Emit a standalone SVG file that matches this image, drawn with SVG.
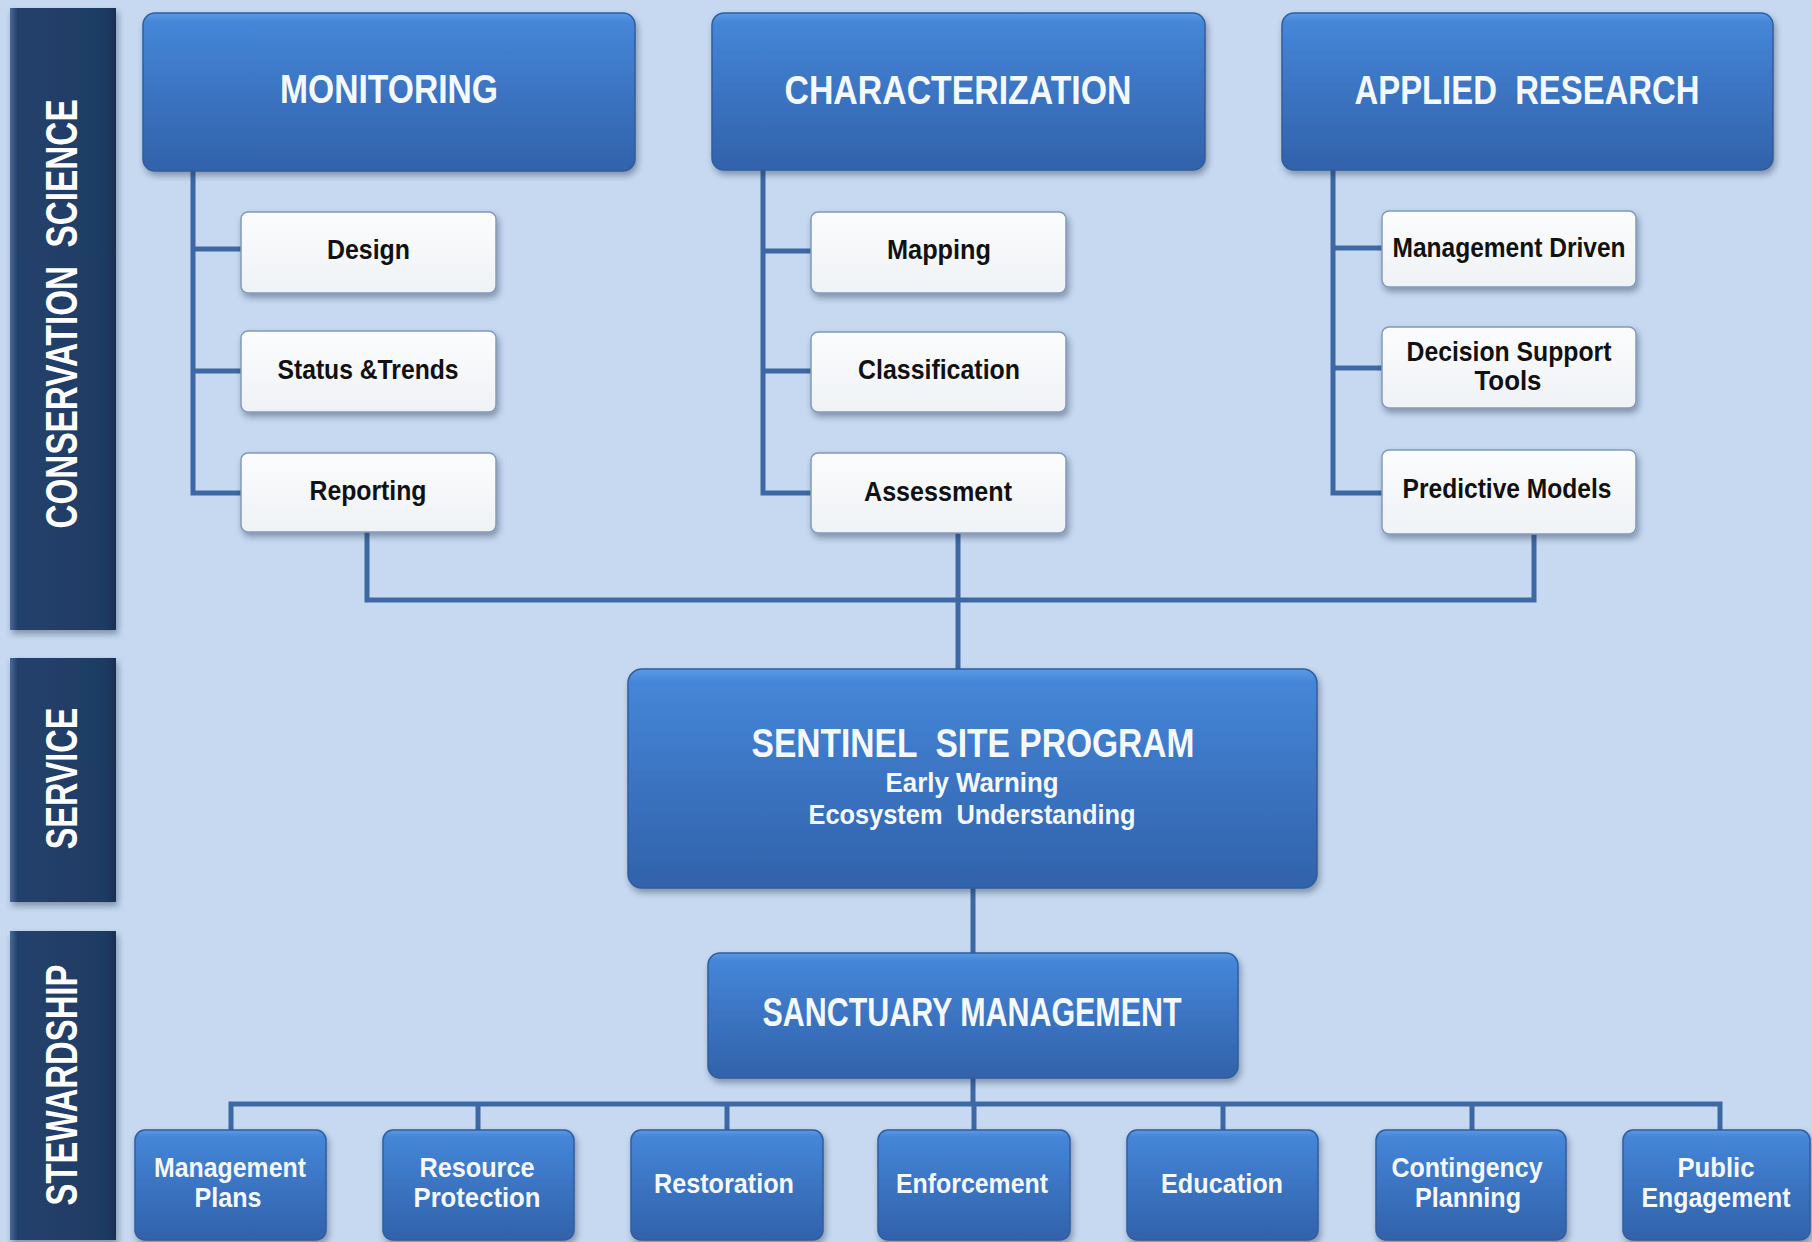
<svg xmlns="http://www.w3.org/2000/svg" width="1812" height="1242" viewBox="0 0 1812 1242">
<defs>
  <linearGradient id="blueGrad" x1="0" y1="0" x2="0" y2="1">
    <stop offset="0" stop-color="#5a9ae6"/>
    <stop offset="0.06" stop-color="#4586d8"/>
    <stop offset="0.5" stop-color="#3b74c2"/>
    <stop offset="1" stop-color="#3162aa"/>
  </linearGradient>
  <linearGradient id="whiteGrad" x1="0" y1="0" x2="0" y2="1">
    <stop offset="0" stop-color="#fbfcfd"/>
    <stop offset="1" stop-color="#eff2f6"/>
  </linearGradient>
  <linearGradient id="bandGrad" x1="0" y1="0" x2="1" y2="0">
    <stop offset="0" stop-color="#4a6a96"/>
    <stop offset="0.07" stop-color="#22416c"/>
    <stop offset="0.9" stop-color="#1f3b63"/>
    <stop offset="1" stop-color="#182f52"/>
  </linearGradient>
  <filter id="shadow" x="-10%" y="-10%" width="125%" height="135%">
    <feDropShadow dx="2" dy="4" stdDeviation="3" flood-color="#1a2a44" flood-opacity="0.4"/>
  </filter>
</defs>
<style>
  .bg { fill: #c6d9f0; }
  .blue { fill: url(#blueGrad); stroke: #2f5d9e; stroke-width: 1.5; filter: url(#shadow); }
  .white { fill: url(#whiteGrad); stroke: #8299bb; stroke-width: 1.5; filter: url(#shadow); }
  .band { fill: url(#bandGrad); filter: url(#shadow); }
  .conn { stroke: #3d68a3; stroke-width: 5; fill: none; }
  .t { font-family: "Liberation Sans Narrow", "Liberation Sans", Arial, sans-serif; text-anchor: middle; white-space: pre; }
  .title { fill: #f4f8ff; font-size: 40px; font-weight: bold; }
  .sub { fill: #f4f8ff; font-size: 28px; font-weight: bold; }
  .wt { fill: #111111; font-size: 27px; font-weight: bold; }
  .bt { fill: #f4f8ff; font-size: 28px; font-weight: bold; }
  .side { font-family: "Liberation Sans", Arial, sans-serif; font-weight: bold; font-size: 45px; fill: #ffffff; text-anchor: middle; white-space: pre; }
</style>
<rect class="bg" x="0" y="0" width="1812" height="1242"/>

<g id="band-conservation">
  <rect class="band" x="10" y="8" width="106" height="622"/>
  <text class="side" transform="translate(77,314) rotate(-90) scale(0.74,1)">CONSERVATION  SCIENCE</text>
</g>
<g id="band-service">
  <rect class="band" x="10" y="658" width="106" height="244"/>
  <text class="side" transform="translate(77,778.5) rotate(-90) scale(0.72,1)">SERVICE</text>
</g>
<g id="band-stewardship">
  <rect class="band" x="10" y="931" width="106" height="309"/>
  <text class="side" transform="translate(77,1085) rotate(-90) scale(0.73,1)">STEWARDSHIP</text>
</g>

<g id="connectors">
  <path class="conn" d="M193 171 V493 H241 M193 249 H241 M193 371 H241"/>
  <path class="conn" d="M763 170 V493 H811 M763 251 H811 M763 371 H811"/>
  <path class="conn" d="M1333 170 V493 H1382 M1333 248 H1382 M1333 368 H1382"/>
  <path class="conn" d="M367 532 V600 H1534 V534 M958 533 V669"/>
  <path class="conn" d="M973 888 V953"/>
  <path class="conn" d="M973 1078 V1104 M231 1130 V1104 H1720 V1130 M478 1104 V1130 M727 1104 V1130 M974 1104 V1130 M1223 1104 V1130 M1472 1104 V1130"/>
</g>

<g id="monitoring">
  <rect class="blue" x="143" y="13" width="492" height="158" rx="12"/>
  <text class="t title" x="389" y="103" textLength="218" lengthAdjust="spacingAndGlyphs">MONITORING</text>
</g>
<g id="characterization">
  <rect class="blue" x="712" y="13" width="493" height="157" rx="12"/>
  <text class="t title" x="958" y="104" textLength="347" lengthAdjust="spacingAndGlyphs">CHARACTERIZATION</text>
</g>
<g id="applied-research">
  <rect class="blue" x="1282" y="13" width="491" height="157" rx="12"/>
  <text class="t title" x="1527" y="104" textLength="345" lengthAdjust="spacingAndGlyphs">APPLIED  RESEARCH</text>
</g>

<g id="design">
  <rect class="white" x="241" y="212" width="255" height="81" rx="7"/>
  <text class="t wt" x="368.5" y="259" textLength="83" lengthAdjust="spacingAndGlyphs">Design</text>
</g>
<g id="status-trends">
  <rect class="white" x="241" y="331" width="255" height="81" rx="7"/>
  <text class="t wt" x="368" y="379" textLength="181" lengthAdjust="spacingAndGlyphs">Status &amp;Trends</text>
</g>
<g id="reporting">
  <rect class="white" x="241" y="453" width="255" height="79" rx="7"/>
  <text class="t wt" x="368" y="500" textLength="117" lengthAdjust="spacingAndGlyphs">Reporting</text>
</g>

<g id="mapping">
  <rect class="white" x="811" y="212" width="255" height="81" rx="7"/>
  <text class="t wt" x="939" y="259" textLength="104" lengthAdjust="spacingAndGlyphs">Mapping</text>
</g>
<g id="classification">
  <rect class="white" x="811" y="332" width="255" height="80" rx="7"/>
  <text class="t wt" x="939" y="379" textLength="162" lengthAdjust="spacingAndGlyphs">Classification</text>
</g>
<g id="assessment">
  <rect class="white" x="811" y="453" width="255" height="80" rx="7"/>
  <text class="t wt" x="938" y="501" textLength="148" lengthAdjust="spacingAndGlyphs">Assessment</text>
</g>

<g id="management-driven">
  <rect class="white" x="1382" y="211" width="254" height="76" rx="7"/>
  <text class="t wt" x="1509" y="257" textLength="233" lengthAdjust="spacingAndGlyphs">Management Driven</text>
</g>
<g id="decision-support">
  <rect class="white" x="1382" y="327" width="254" height="81" rx="7"/>
  <text class="t wt" x="1509" y="361" textLength="205" lengthAdjust="spacingAndGlyphs">Decision Support</text>
  <text class="t wt" x="1508" y="390" textLength="67" lengthAdjust="spacingAndGlyphs">Tools</text>
</g>
<g id="predictive-models">
  <rect class="white" x="1382" y="450" width="254" height="84" rx="7"/>
  <text class="t wt" x="1507" y="498" textLength="209" lengthAdjust="spacingAndGlyphs">Predictive Models</text>
</g>

<g id="sentinel">
  <rect class="blue" x="628" y="669" width="689" height="219" rx="14"/>
  <text class="t title" x="973" y="757" textLength="443" lengthAdjust="spacingAndGlyphs">SENTINEL  SITE PROGRAM</text>
  <text class="t sub" x="972" y="792" textLength="173" lengthAdjust="spacingAndGlyphs">Early Warning</text>
  <text class="t sub" x="972" y="824" textLength="327" lengthAdjust="spacingAndGlyphs">Ecosystem  Understanding</text>
</g>

<g id="sanctuary">
  <rect class="blue" x="708" y="953" width="530" height="125" rx="12"/>
  <text class="t title" x="972" y="1026" textLength="419" lengthAdjust="spacingAndGlyphs">SANCTUARY MANAGEMENT</text>
</g>

<g id="management-plans">
  <rect class="blue" x="135" y="1130" width="191" height="110" rx="10"/>
  <text class="t bt" x="230" y="1177" textLength="152" lengthAdjust="spacingAndGlyphs">Management</text>
  <text class="t bt" x="228" y="1207" textLength="67" lengthAdjust="spacingAndGlyphs">Plans</text>
</g>
<g id="resource-protection">
  <rect class="blue" x="383" y="1130" width="191" height="110" rx="10"/>
  <text class="t bt" x="477" y="1177" textLength="115" lengthAdjust="spacingAndGlyphs">Resource</text>
  <text class="t bt" x="477" y="1207" textLength="127" lengthAdjust="spacingAndGlyphs">Protection</text>
</g>
<g id="restoration">
  <rect class="blue" x="631" y="1130" width="192" height="110" rx="10"/>
  <text class="t bt" x="724" y="1193" textLength="140" lengthAdjust="spacingAndGlyphs">Restoration</text>
</g>
<g id="enforcement">
  <rect class="blue" x="878" y="1130" width="192" height="110" rx="10"/>
  <text class="t bt" x="972" y="1193" textLength="152" lengthAdjust="spacingAndGlyphs">Enforcement</text>
</g>
<g id="education">
  <rect class="blue" x="1127" y="1130" width="191" height="110" rx="10"/>
  <text class="t bt" x="1222" y="1193" textLength="122" lengthAdjust="spacingAndGlyphs">Education</text>
</g>
<g id="contingency-planning">
  <rect class="blue" x="1376" y="1130" width="190" height="110" rx="10"/>
  <text class="t bt" x="1467" y="1177" textLength="151" lengthAdjust="spacingAndGlyphs">Contingency</text>
  <text class="t bt" x="1468" y="1207" textLength="106" lengthAdjust="spacingAndGlyphs">Planning</text>
</g>
<g id="public-engagement">
  <rect class="blue" x="1623" y="1130" width="187" height="110" rx="10"/>
  <text class="t bt" x="1716" y="1177" textLength="77" lengthAdjust="spacingAndGlyphs">Public</text>
  <text class="t bt" x="1716" y="1207" textLength="149" lengthAdjust="spacingAndGlyphs">Engagement</text>
</g>
</svg>
